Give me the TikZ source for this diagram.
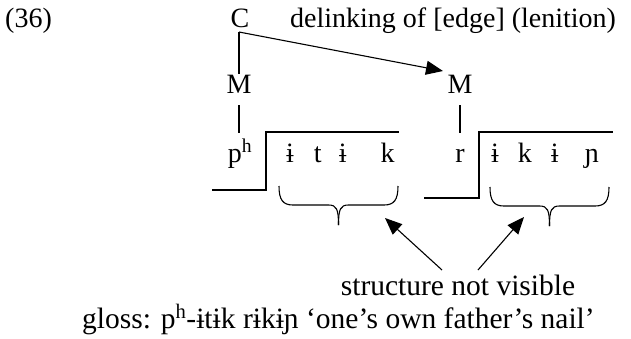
\documentclass[tikz,border=0pt]{standalone}
\usepackage{fontspec}
\setmainfont{Liberation Serif}
\usetikzlibrary{arrows.meta}

\tikzset{
  lbl/.style={inner sep=0pt, anchor=base},
  tier/.style={line width=1.1pt},
  pointer/.style={line width=1.1pt, -{Triangle[length=17pt,width=14pt]}},
  bigtext/.style={font=\fontsize{29.5}{35}\selectfont}
}

% curly brace under a span: left x, right x, top y
\newcommand{\spanbrace}[3]{%
  \draw[tier] (#1,#3) .. controls (#1,{#3+14}) and ({#1+4},{#3+19}) .. ({#1+14},{#3+19})
    -- ({(#1+#2)/2-10},{#3+19}) .. controls ({(#1+#2)/2-2},{#3+19}) and ({(#1+#2)/2},{#3+23}) .. ({(#1+#2)/2},{#3+39});
  \draw[tier] (#2,#3) .. controls (#2,{#3+14}) and ({#2-4},{#3+19}) .. ({#2-14},{#3+19})
    -- ({(#1+#2)/2+10},{#3+19}) .. controls ({(#1+#2)/2+2},{#3+19}) and ({(#1+#2)/2},{#3+23}) .. ({(#1+#2)/2},{#3+39});
}

\begin{document}
\begin{tikzpicture}[x=1pt, y=-1pt, font=\fontsize{28}{34}\selectfont]
    \useasboundingbox (0,0) rectangle (631,338);

    % Example number and title
    \node[lbl, anchor=base west] (num) at (5,27) {(36)};
    \node[lbl] (C) at (240,27) {C};
    \node[lbl, anchor=base west] (title) at (290,27) {delinking of [edge] (lenition)};

    % Melodic tier
    \node[lbl] (M1) at (239,93) {M};
    \node[lbl] (M2) at (460,93) {M};
    \coordinate (cj) at (239,32);
    \draw[tier] (cj) -- (M1.north);
    \draw[pointer] (cj) -- (443,71);

    % Segments
    \node[lbl] (ph) at (240,162) {p\textsuperscript{h}};
    \node[lbl] (r) at (460,162) {r};
    \draw[tier] (M1.south) ++(0,12) -- (239,133);
    \draw[tier] (M2.south) ++(0,12) -- (460,133);
    \node[lbl, anchor=base west] (itik) at (286,162) {ɨ\hspace{20pt}t\hspace{17pt}ɨ\hspace{34pt}k};
    \node[lbl, anchor=base west] (ikin) at (491,162) {ɨ\hspace{19pt}k\hspace{19pt}ɨ\hspace{26pt}ɲ};

    % Domain boxes
    \draw[tier] (212,190) -- (266,190) -- (266,132) -- (399,132);
    \draw[tier] (424,198) -- (479,198) -- (479,132) -- (613,132);

    % Braces
    \spanbrace{279}{398}{186}
    \spanbrace{490}{609}{187}

    % Comment and arrows
    \node[lbl, bigtext] (note) at (458,295) {structure not visible};
    \draw[pointer] (442,270) -- (385,218);
    \draw[pointer] (478,270) -- (524,217);

    % Gloss
    \node[lbl, bigtext, anchor=base west] (gloss) at (82,328) {gloss: p\textsuperscript{h}-ɨtɨk rɨkɨɲ ‘one’s own father’s nail’};
\end{tikzpicture}
\end{document}
